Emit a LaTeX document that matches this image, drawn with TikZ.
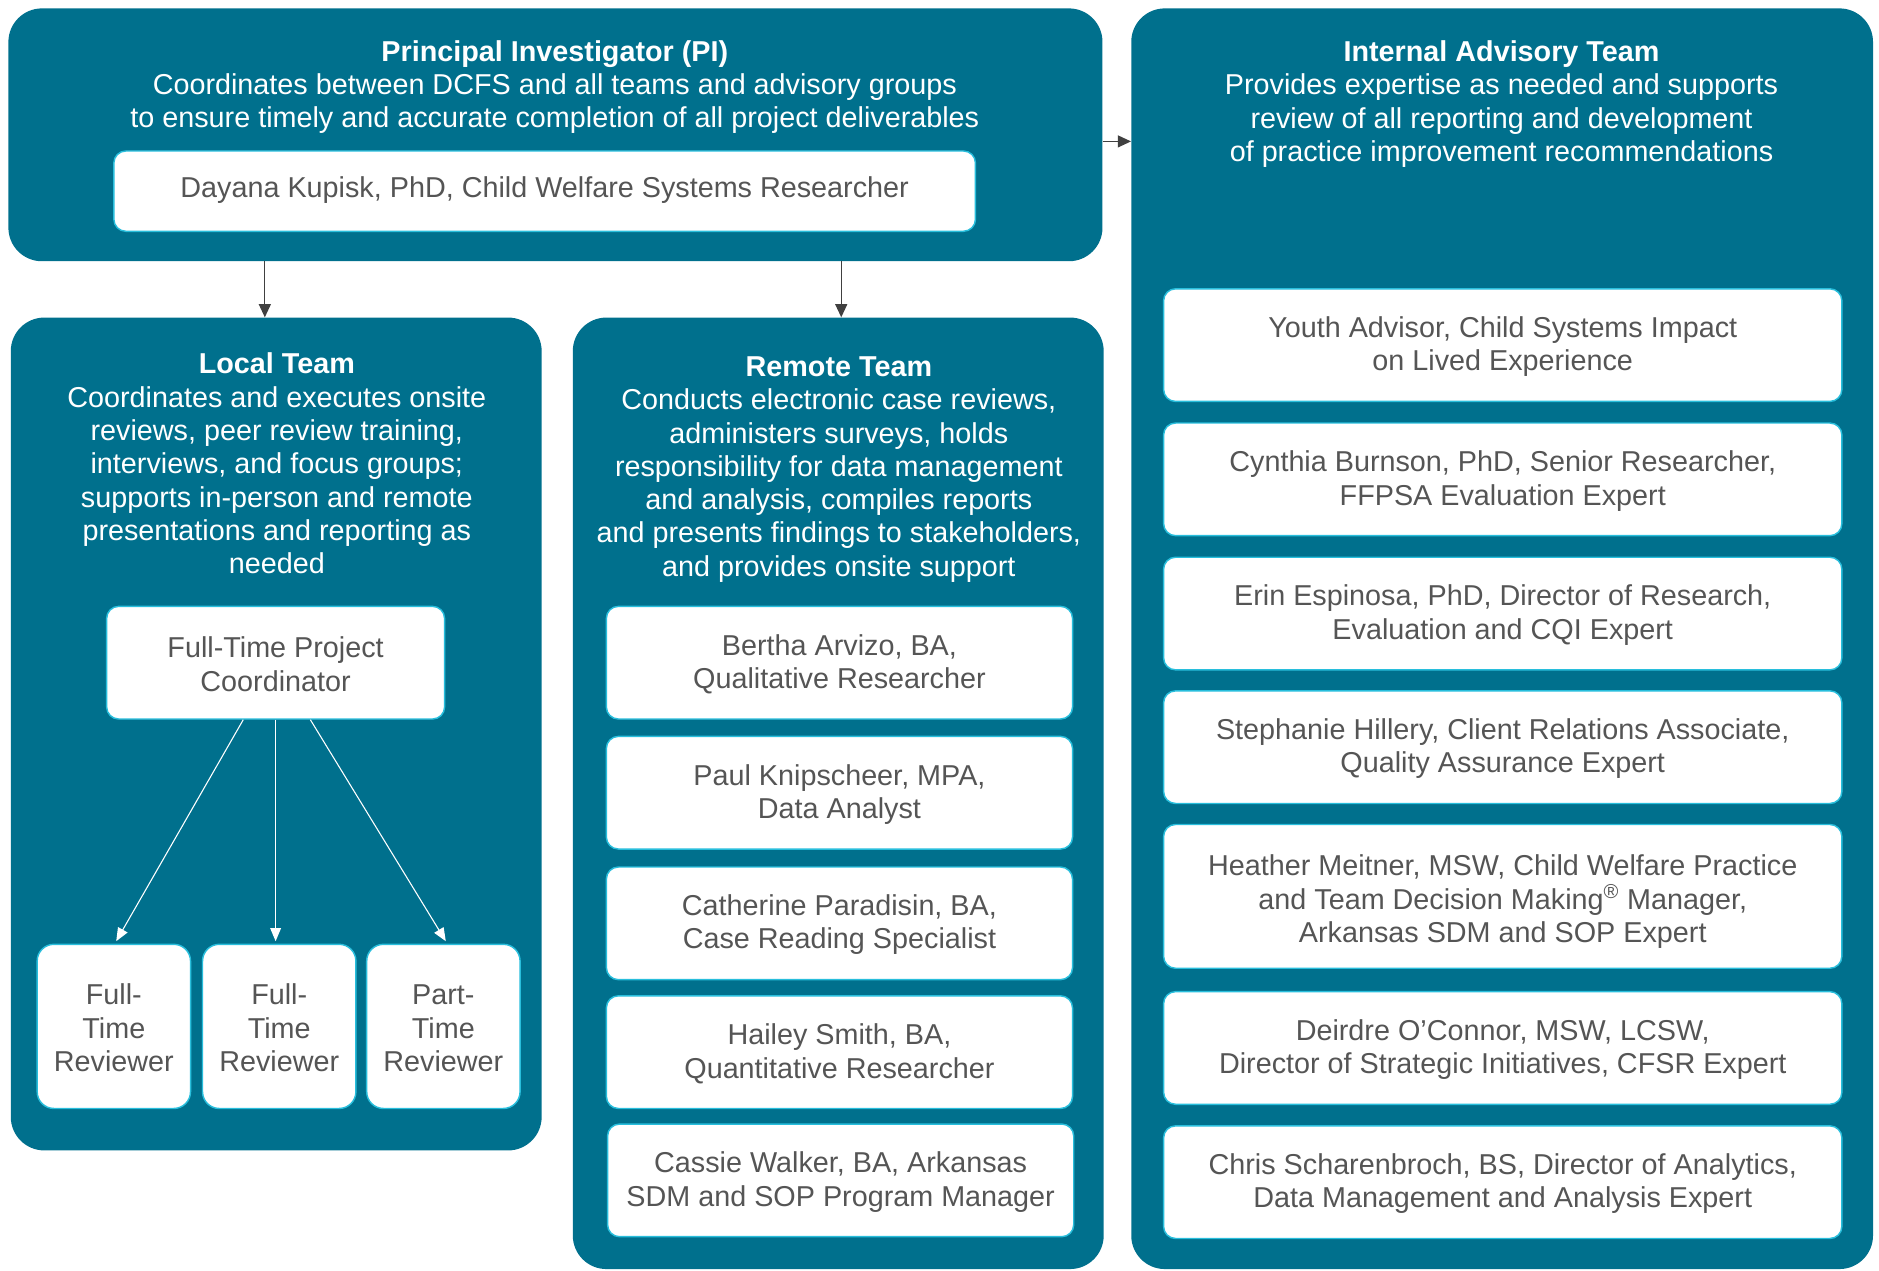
\documentclass[tikz,border=0pt]{standalone}
\usepackage{fontspec}
\setmainfont{Liberation Sans}
\usetikzlibrary{arrows.meta}
\definecolor{tealbg}{RGB}{0,112,141}
\definecolor{txtgray}{RGB}{85,85,85}
\definecolor{edgecyan}{RGB}{40,190,220}
\definecolor{arrowgray}{RGB}{64,64,64}
\newcommand{\fsz}{\fontsize{24}{27.8}\selectfont}
\newcommand{\ts}{\rule{0pt}{20pt}}
\newcommand{\tsb}{\rule{0pt}{26.5pt}}
\newcommand{\botstrutsl}{\rule[\dimexpr-0.212em-6pt\relax]{0pt}{\dimexpr0.212em+6pt\relax}}
\begin{document}
\begin{tikzpicture}[x=1pt,y=-1pt,
  tbox/.style={fill=tealbg, draw=none, rounded corners=28pt, inner sep=0pt},
  wbox/.style={fill=white, draw=edgecyan, line width=1.2pt, rounded corners=10pt, inner sep=0pt,
               align=center, text=txtgray, font=\fsz},
  rbox/.style={wbox, rounded corners=14pt, minimum width=128pt, minimum height=137pt},
  hdr/.style={text=white, align=center, font=\fsz, inner sep=0pt},
  darrow/.style={draw=arrowgray, line width=1.1pt, -{Triangle[length=11pt,width=10pt]}},
  warrow/.style={draw=white, line width=0.9pt, -{Triangle[length=11pt,width=9pt]}},
  rmbox/.style={wbox, minimum width=389pt, minimum height=94pt},
  iabox/.style={wbox, minimum width=566pt, minimum height=94pt}
]
\useasboundingbox (0,0) rectangle (1568,1060);

% big teal containers
\node[tbox, minimum width=913pt, minimum height=211pt] (pi) at (463.5,112.5) {};
\node[tbox, minimum width=443pt, minimum height=695pt] (local) at (230.5,612.5) {};
\node[tbox, minimum width=443pt, minimum height=794pt] (remote) at (699.5,662) {};
\node[tbox, minimum width=619pt, minimum height=1052pt] (internal) at (1253.5,533) {};

% headers
\node[hdr] (pihdr) at (463,71.5) {\ts\textbf{Principal Investigator (PI)}\\
  Coordinates between DCFS and all teams and advisory groups\\
  to ensure timely and accurate completion of all project deliverables};
\node[hdr] (localhdr) at (231,385.5) {\ts\textbf{Local Team}\\
  Coordinates and executes onsite\\
  reviews, peer review training,\\
  interviews, and focus groups;\\
  supports in-person and remote\\
  presentations and reporting as\\
  needed};
\node[hdr] (remotehdr) at (700,390) {\ts\textbf{Remote Team}\\
  Conducts electronic case reviews,\\
  administers surveys, holds\\
  responsibility for data management\\
  and analysis, compiles reports\\
  and presents findings to stakeholders,\\
  and provides onsite support};
\node[hdr] (iahdr) at (1253,85.5) {\ts\textbf{Internal Advisory Team}\\
  Provides expertise as needed and supports\\
  review of all reporting and development\\
  of practice improvement recommendations};

% PI member
\node[wbox, minimum width=719pt, minimum height=67pt,
      execute at begin node={\rule{0pt}{0.905em}}, execute at end node=\botstrutsl] (dayana) at (454.5,159.5)
  {Dayana Kupisk, PhD, Child Welfare Systems Researcher};

% Local team
\node[wbox, minimum width=282pt, minimum height=94pt] (coord) at (230,553)
  {\ts Full-Time Project\\Coordinator};
\node[rbox] (rev1) at (95,856.5) {\ts Full-\\Time\\Reviewer};
\node[rbox] (rev2) at (233,856.5) {\ts Full-\\Time\\Reviewer};
\node[rbox] (rev3) at (370,856.5) {\ts Part-\\Time\\Reviewer};

% Remote team
\node[rmbox] (bertha) at (700.5,553) {\ts Bertha Arvizo, BA,\\Qualitative Researcher};
\node[rmbox] (paul) at (700.5,661.5) {\ts Paul Knipscheer, MPA,\\Data Analyst};
\node[rmbox] (cath) at (700.5,770.5) {\ts Catherine Paradisin, BA,\\Case Reading Specialist};
\node[rmbox] (hailey) at (700.5,878) {\ts Hailey Smith, BA,\\Quantitative Researcher};
\node[rmbox] (cassie) at (701.5,985) {\ts Cassie Walker, BA, Arkansas\\SDM and SOP Program Manager};

% Internal advisory
\node[iabox] (youth) at (1254,288) {\ts Youth Advisor, Child Systems Impact\\on Lived Experience};
\node[iabox] (cynthia) at (1254,400) {\ts Cynthia Burnson, PhD, Senior Researcher,\\FFPSA Evaluation Expert};
\node[iabox] (erin) at (1254,512) {\ts Erin Espinosa, PhD, Director of Research,\\Evaluation and CQI Expert};
\node[iabox] (steph) at (1254,623.5) {\ts Stephanie Hillery, Client Relations Associate,\\Quality Assurance Expert};
\node[iabox, minimum height=120pt] (heather) at (1254,748) {\tsb Heather Meitner, MSW, Child Welfare Practice\\and Team Decision Making\textsuperscript{®} Manager,\\Arkansas SDM and SOP Expert};
\node[iabox] (deirdre) at (1254,874.5) {\ts Deirdre O’Connor, MSW, LCSW,\\Director of Strategic Initiatives, CFSR Expert};
\node[iabox] (chris) at (1254,986.5) {\ts Chris Scharenbroch, BS, Director of Analytics,\\Data Management and Analysis Expert};

% connectors
\draw[darrow] (pi.south -| 221,0) -- (local.north -| 221,0);
\draw[darrow] (pi.south -| 702,0) -- (remote.north -| 702,0);
\draw[darrow] (pi.east |- 0,118) -- (internal.west |- 0,118);

\draw[warrow] (coord.south -| 203,0) -- ([yshift=2pt]rev1.north -| 97,0);
\draw[warrow] (coord.south -| 230,0) -- ([yshift=2pt]rev2.north -| 230,0);
\draw[warrow] (coord.south -| 259,0) -- ([yshift=2pt]rev3.north -| 372,0);
\end{tikzpicture}
\end{document}
